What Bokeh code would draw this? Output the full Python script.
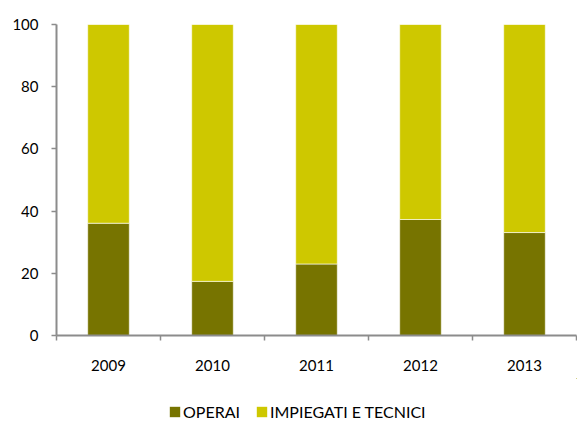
from bokeh.plotting import figure
from bokeh.layouts import column
from bokeh.models import FixedTicker, Legend, LegendItem, ColumnDataSource, Range1d
from bokeh.embed import file_html
from bokeh.resources import INLINE

years = ["2009", "2010", "2011", "2012", "2013"]
operai = [36.1, 17.4, 23.0, 37.3, 33.1]
impiegati = [63.9, 82.6, 77.0, 62.7, 66.9]
series_names = ["OPERAI", "IMPIEGATI E TECNICI"]
colors = ["#777400", "#CEC800"]
y_ticks = [0, 20, 40, 60, 80, 100]

FONT = "Lato"
FS = "15px"
LFS = "16px"

xpos = [i + 0.5 for i in range(len(years))]
src = ColumnDataSource(dict(x=xpos, operai=operai, impiegati=impiegati))

p = figure(width=577, height=378, output_backend="svg", toolbar_location=None,
           x_range=Range1d(0, len(years)), y_range=Range1d(0, 100),
           min_border_left=56, min_border_right=1, min_border_top=24, min_border_bottom=43)
p.outline_line_color = None
p.xgrid.visible = False
p.ygrid.visible = False
p.background_fill_color = "white"
p.border_fill_color = "white"

rs = p.vbar_stack(["operai", "impiegati"], x="x", width=0.4, source=src,
                  color=colors, line_color="white", line_width=0.6)

# axes
xa = p.xaxis[0]
xa.ticker = FixedTicker(ticks=xpos, minor_ticks=list(range(len(years) + 1)))
xa.major_label_overrides = {x: y for x, y in zip(xpos, years)}
xa.major_tick_line_color = None
xa.major_tick_out = 0
xa.major_tick_in = 0
xa.minor_tick_out = 5
xa.minor_tick_in = 0
xa.minor_tick_line_color = "#8c8c8c"
xa.minor_tick_line_width = 1.5
xa.axis_line_color = "#8c8c8c"
xa.axis_line_width = 2
xa.major_label_standoff = 19
xa.major_label_text_font = FONT
xa.major_label_text_font_size = FS
xa.major_label_text_color = "#000000"

ya = p.yaxis[0]
ya.ticker = FixedTicker(ticks=y_ticks, minor_ticks=[])
ya.major_tick_out = 5
ya.major_tick_in = 0
ya.major_tick_line_color = "#8c8c8c"
ya.major_tick_line_width = 1.5
ya.axis_line_color = "#8c8c8c"
ya.axis_line_width = 2
ya.major_label_standoff = 13
ya.major_label_text_font = FONT
ya.major_label_text_font_size = FS
ya.major_label_text_color = "#000000"

# legend strip below the chart (same series; its bars lie far outside this strip's ranges)
lg = figure(width=577, height=43, output_backend="svg", toolbar_location=None,
            x_axis_type=None, y_axis_type=None,
            x_range=Range1d(-1000, -995), y_range=Range1d(-1000, -900),
            min_border_left=0, min_border_right=0, min_border_top=0, min_border_bottom=0)
lg.outline_line_color = None
lg.xgrid.visible = False
lg.ygrid.visible = False
lrs = lg.vbar_stack(["operai", "impiegati"], x="x", width=0.4, source=src,
                    color=colors, line_color=None)

legend = Legend(items=[LegendItem(label=n, renderers=[r]) for n, r in zip(series_names, lrs)],
                orientation="horizontal", location=(112, 0),
                glyph_width=13, glyph_height=13, label_height=10,
                label_standoff=2, spacing=15, padding=0, margin=0,
                border_line_color=None, background_fill_alpha=0,
                label_text_font=FONT, label_text_font_size=LFS, label_text_color="#000000")
lg.add_layout(legend, "center")

layout = column(p, lg, spacing=0)
open("out.html", "w").write(file_html(layout, INLINE))
